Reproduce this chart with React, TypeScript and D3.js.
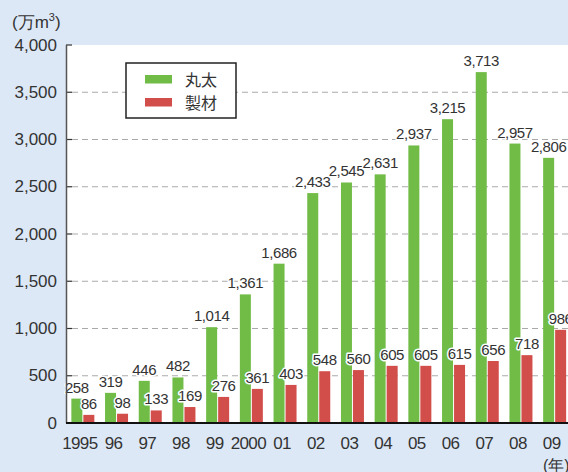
import React, { useRef, useEffect } from 'react';
import * as d3 from 'd3';

const years = ['1995', '96', '97', '98', '99', '2000', '01', '02', '03', '04', '05', '06', '07', '08', '09'];
const logs = [258, 319, 446, 482, 1014, 1361, 1686, 2433, 2545, 2631, 2937, 3215, 3713, 2957, 2806];
const lumber = [86, 98, 133, 169, 276, 361, 403, 548, 560, 605, 605, 615, 656, 718, 986];
const yTicks = [0, 500, 1000, 1500, 2000, 2500, 3000, 3500, 4000];
const seriesNames = ['丸太', '製材'];
const colors = ['#70bc46', '#d24e4b'];

const App = () => {
  const svgRef = useRef<SVGSVGElement>(null);

  useEffect(() => {
    const width = 568;
    const height = 472;
    const font = '"Liberation Sans", Arial, sans-serif';

    const svg = d3.select(svgRef.current)
      .attr('width', width)
      .attr('height', height);
    svg.selectAll('*').remove();

    // 背景
    svg.append('rect').attr('width', width).attr('height', height).attr('fill', '#dde8f6');

    const x = d3.scaleBand().domain(years).range([66, 571.5]).padding(0);
    const y = d3.scaleLinear().domain([0, 4000]).range([423, 45]);
    const cx = (d: string) => x(d)! + x.bandwidth() / 2;

    // 描画エリア
    svg.append('rect')
      .attr('x', 67).attr('y', y(4000))
      .attr('width', width - 67).attr('height', y(0) - y(4000))
      .attr('fill', '#fff');

    // グリッド
    svg.append('g').selectAll('line')
      .data(yTicks.filter(t => t > 0 && t < 4000))
      .join('line')
      .attr('x1', 72).attr('x2', width)
      .attr('y1', d => y(d)).attr('y2', d => y(d))
      .attr('stroke', '#aaa').attr('stroke-width', 1)
      .attr('stroke-dasharray', '6,4');

    // 目盛り
    svg.append('g').selectAll('line')
      .data(yTicks)
      .join('line')
      .attr('x1', 66).attr('x2', 72)
      .attr('y1', d => y(d)).attr('y2', d => y(d))
      .attr('stroke', '#333').attr('stroke-width', 1.2);

    svg.append('g').selectAll('text')
      .data(yTicks)
      .join('text')
      .attr('x', 57).attr('y', d => y(d))
      .attr('text-anchor', 'end').attr('dominant-baseline', 'central')
      .attr('font-family', font).attr('font-size', 17)
      .attr('fill', '#333')
      .text(d => d3.format(',')(d));

    // 棒
    const bw = 11;
    svg.append('g').selectAll('rect')
      .data(years)
      .join('rect')
      .attr('x', d => cx(d) - bw - 0.5).attr('y', (d, i) => y(logs[i]))
      .attr('width', bw).attr('height', (d, i) => y(0) - y(logs[i]))
      .attr('fill', colors[0]);

    svg.append('g').selectAll('rect')
      .data(years)
      .join('rect')
      .attr('x', d => cx(d) + 0.5).attr('y', (d, i) => y(lumber[i]))
      .attr('width', bw).attr('height', (d, i) => y(0) - y(lumber[i]))
      .attr('fill', colors[1]);

    // 数値ラベル
    const label = (vals: number[], dx: number) => {
      svg.append('g').selectAll('text')
        .data(years)
        .join('text')
        .attr('x', d => cx(d) + dx).attr('y', (d, i) => y(vals[i]) - 6)
        .attr('text-anchor', 'middle')
        .attr('font-family', font).attr('font-size', 15)
        .attr('letter-spacing', -0.4)
        .attr('fill', '#333')
        .attr('stroke', '#fff').attr('stroke-width', 3)
        .attr('stroke-linejoin', 'round')
        .attr('paint-order', 'stroke')
        .text((d, i) => d3.format(',')(vals[i]));
    };
    label(logs, -bw / 2 - 0.5);
    label(lumber, bw / 2 + 0.5);

    // 軸線
    svg.append('line')
      .attr('x1', 66.5).attr('x2', 66.5).attr('y1', y(4000)).attr('y2', y(0))
      .attr('stroke', '#555').attr('stroke-width', 1.5);
    svg.append('line')
      .attr('x1', 66).attr('x2', width).attr('y1', y(0)).attr('y2', y(0))
      .attr('stroke', '#111').attr('stroke-width', 2);

    // x 軸ラベル
    svg.append('g').selectAll('text')
      .data(years)
      .join('text')
      .attr('x', d => cx(d) - 3).attr('y', 449)
      .attr('text-anchor', 'middle')
      .attr('font-family', font).attr('font-size', 17)
      .attr('letter-spacing', -0.6)
      .attr('fill', '#333')
      .text(d => d);

    // 単位
    const unit = svg.append('text')
      .attr('x', 12).attr('y', 28)
      .attr('font-family', font).attr('font-size', 17)
      .attr('fill', '#333');
    unit.append('tspan').text('(万m');
    unit.append('tspan').attr('font-size', 11).attr('dy', -7).text('3');
    unit.append('tspan').attr('dy', 7).text(')');

    svg.append('text')
      .attr('x', 543).attr('y', 471)
      .attr('font-family', font).attr('font-size', 16)
      .attr('fill', '#333')
      .text('(年)');

    // 凡例
    const lg = svg.append('g');
    lg.append('rect')
      .attr('x', 126).attr('y', 63).attr('width', 110).attr('height', 55)
      .attr('fill', '#fff').attr('stroke', '#222').attr('stroke-width', 1.5);
    seriesNames.forEach((name, i) => {
      lg.append('rect')
        .attr('x', 145).attr('y', 75 + i * 23).attr('width', 27).attr('height', 8.5)
        .attr('fill', colors[i]);
      lg.append('text')
        .attr('x', 185).attr('y', 79 + i * 23)
        .attr('dominant-baseline', 'central')
        .attr('font-family', '"Noto Sans CJK JP", sans-serif').attr('font-size', 16)
        .attr('fill', '#333')
        .text(name);
    });
  }, []);

  return (
    <svg ref={svgRef} style={{ position: 'absolute', left: 0, top: 0 }}></svg>
  );
};

export default App;
